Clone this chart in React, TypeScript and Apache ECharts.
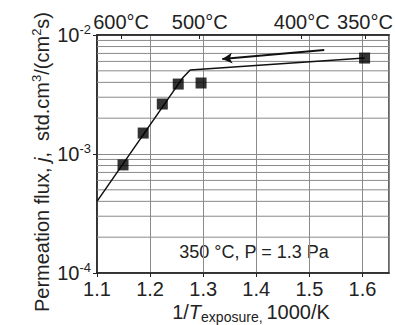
import React, { useEffect, useRef } from "react";
import * as echarts from "echarts";

const FONT = "'Liberation Sans', Arial, Helvetica, sans-serif";

// bottom axis: 1/T, 1000/K
const xMin = 1.1;
const xMax = 1.65;
const xInterval = 0.1;
// top axis: exposure temperatures (°C)
const topTempsC = [600, 500, 400, 350];
// y axis: permeation flux
const yMin = 1e-4;
const yMax = 1e-2;
const minorGridY = [
  2e-4, 3e-4, 4e-4, 5e-4, 6e-4, 7e-4, 8e-4, 9e-4,
  2e-3, 3e-3, 4e-3, 5e-3, 6e-3, 7e-3, 8e-3, 9e-3,
];
// measured points
const pointsX = [1.149, 1.187, 1.223, 1.253, 1.296, 1.604];
const pointsY = [8.1e-4, 1.5e-3, 2.63e-3, 3.87e-3, 3.95e-3, 6.4e-3];
// guide line
const fitX = [1.1, 1.262, 1.2755, 1.604];
const fitY = [4.0e-4, 4.4e-3, 5.08e-3, 6.4e-3];
// arrow (from -> to)
const arrowFrom = [1.528, 7.48e-3];
const arrowTo = [1.336, 6.28e-3];

const topPositions = topTempsC.map((t) => 1000 / (t + 273.15));

export default function App() {
  const ref = useRef<HTMLDivElement>(null);

  useEffect(() => {
    document.body.style.margin = "0";
    const chart = echarts.init(ref.current!, null, { renderer: "svg" });
    const gridColor = "#8a8a8a";
    const axisColor = "#222";

    const gridSeries = minorGridY.map((y) => ({
      type: "line",
      data: [
        [xMin, y],
        [xMax, y],
      ],
      symbol: "none",
      showSymbol: false,
      silent: true,
      lineStyle: { color: gridColor, width: 1 },
      z: 1,
    }));

    const option: any = {
      animation: false,
      backgroundColor: "#fff",
      textStyle: { fontFamily: FONT },
      grid: {
        left: 97,
        right: 6,
        top: 35,
        bottom: 52,
        containLabel: false,
        outerBoundsMode: "none",
        show: true,
        borderColor: "#333",
        borderWidth: 1.5,
      },
      xAxis: [
        {
          type: "value",
          min: xMin,
          max: xMax,
          interval: xInterval,
          position: "bottom",
          axisLine: { show: true, onZero: false, lineStyle: { color: axisColor, width: 1.5 } },
          axisTick: { show: true, inside: false, length: 4, lineStyle: { color: axisColor } },
          axisLabel: {
            fontSize: 20,
            color: "#222",
            fontFamily: FONT,
            margin: 6,
            showMaxLabel: false,
            formatter: (v: number) => (Math.abs(v - xMax) < 1e-6 ? "" : v.toFixed(1)),
          },
          splitLine: { show: true, lineStyle: { color: gridColor, width: 1 } },
        },
        {
          type: "value",
          min: xMin,
          max: xMax,
          position: "top",
          axisLine: { show: true, onZero: false, lineStyle: { color: axisColor, width: 1.5 } },
          axisTick: {
            show: true,
            inside: true,
            length: 4,
            customValues: topPositions,
            lineStyle: { color: axisColor },
          },
          axisLabel: {
            fontSize: 20,
            color: "#222",
            fontFamily: FONT,
            margin: 3,
            customValues: topPositions,
            formatter: (v: number) => {
              const t = Math.round((1000 / v - 273.15) / 50) * 50;
              return `${t}°C`;
            },
          },
          splitLine: { show: false },
        },
      ],
      yAxis: {
        type: "log",
        logBase: 10,
        min: yMin,
        max: yMax,
        axisLine: { show: true, onZero: false, lineStyle: { color: axisColor, width: 1.5 } },
        axisTick: { show: true, inside: false, length: 4, lineStyle: { color: axisColor } },
        axisLabel: {
          margin: 6,
          formatter: (v: number) => `{b|10}{s|${Math.round(Math.log10(v))}}`,
          rich: {
            b: { fontSize: 20, fontFamily: FONT, color: "#222", lineHeight: 24 },
            s: { fontSize: 13, fontFamily: FONT, color: "#222", verticalAlign: "top", lineHeight: 13 },
          },
        },
        splitLine: { show: true, lineStyle: { color: gridColor, width: 1 } },
      },
      series: [
        ...gridSeries,
        {
          type: "line",
          data: fitX.map((x, i) => [x, fitY[i]]),
          showSymbol: false,
          symbol: "none",
          lineStyle: { color: "#111", width: 1.5 },
          z: 3,
        },
        {
          type: "line",
          data: [],
          markLine: {
            silent: true,
            symbol: ["none", "arrow"],
            symbolSize: [8, 10],
            label: { show: false },
            lineStyle: { color: "#111", width: 2, type: "solid" },
            data: [[{ coord: arrowFrom }, { coord: arrowTo }]],
          },
        },
        {
          type: "scatter",
          data: pointsX.map((x, i) => [x, pointsY[i]]),
          symbol: "rect",
          symbolSize: 11,
          itemStyle: { color: "#000" },
          z: 5,
        },
      ],
      graphic: [
        {
          type: "text",
          x: 42,
          y: 162,
          rotation: Math.PI / 2,
          style: {
            text: "{n|Permeation flux, }{i|j}{n|,  std.cm}{s|3}{n|/(cm}{s|2}{n|s)}",
            align: "center",
            verticalAlign: "middle",
            textAlign: "center",
            textVerticalAlign: "middle",
            rich: {
              n: { fontSize: 20, fontFamily: FONT, fill: "#222", color: "#222", lineHeight: 24 },
              i: { fontSize: 20, fontFamily: FONT, fontStyle: "italic", fill: "#222", color: "#222", lineHeight: 24 },
              s: { fontSize: 13, fontFamily: FONT, fill: "#222", color: "#222", verticalAlign: "top", lineHeight: 13 },
            },
          },
        },
        {
          type: "text",
          x: 251,
          y: 312,
          style: {
            text: "{n|1/}{i|T}{sub|exposure, }{n|1000/K}",
            align: "center",
            verticalAlign: "middle",
            textAlign: "center",
            textVerticalAlign: "middle",
            rich: {
              n: { fontSize: 20, fontFamily: FONT, fill: "#222", color: "#222", lineHeight: 24 },
              i: { fontSize: 20, fontFamily: FONT, fontStyle: "italic", fill: "#222", color: "#222", lineHeight: 24 },
              sub: { fontSize: 14, fontFamily: FONT, fill: "#222", color: "#222", verticalAlign: "bottom", lineHeight: 14 },
            },
          },
        },
        {
          type: "text",
          x: 254,
          y: 252,
          style: {
            text: "350 °C, P = 1.3 Pa",
            fontSize: 18,
            fontFamily: FONT,
            fill: "#222",
            align: "center",
            verticalAlign: "middle",
            textAlign: "center",
            textVerticalAlign: "middle",
          },
        },
      ],
    };

    chart.setOption(option);
    return () => chart.dispose();
  }, []);

  return <div ref={ref} style={{ width: 395, height: 325 }} />;
}
